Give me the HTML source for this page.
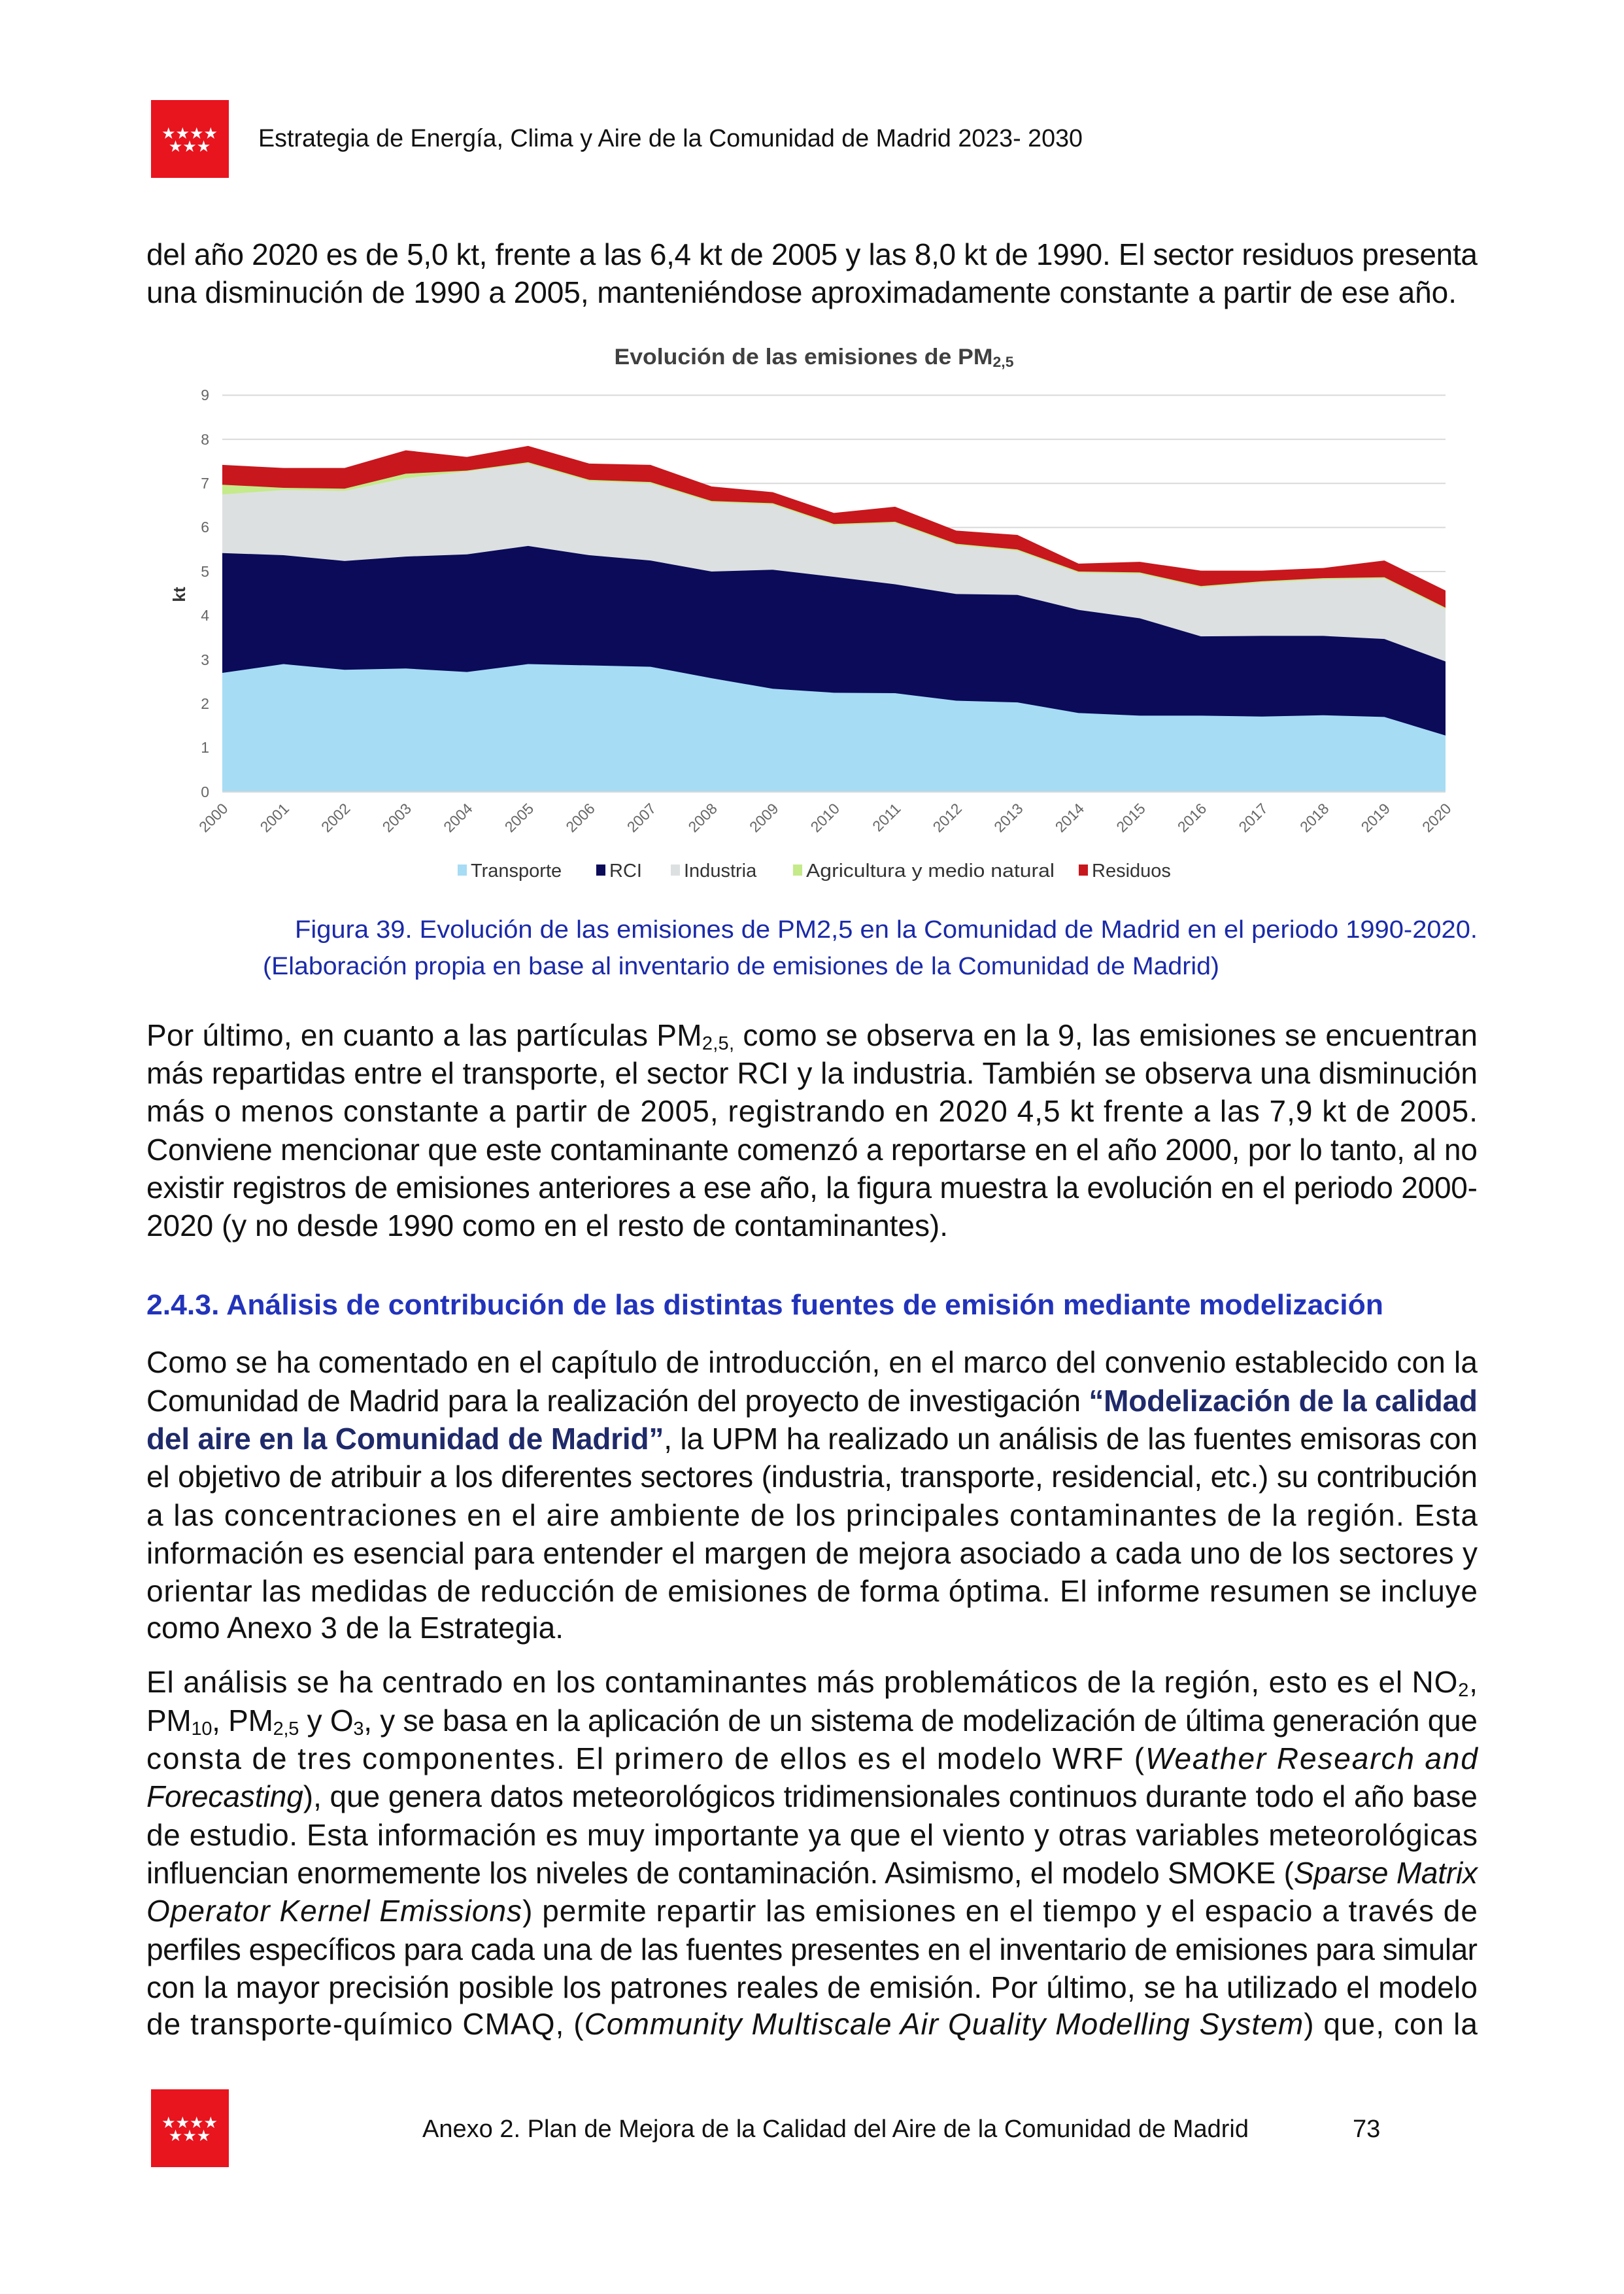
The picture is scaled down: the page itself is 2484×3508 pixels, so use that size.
<!DOCTYPE html>
<html><head><meta charset="utf-8">
<style>
html,body{margin:0;padding:0;background:#fff;}
svg{display:block;}
.b{font-family:"Liberation Sans",Arial,sans-serif;font-size:46px;fill:#111;}
.c{font-family:"Liberation Sans",sans-serif;}
</style></head><body>
<svg width="2484" height="3508" viewBox="0 0 2484 3508" xmlns="http://www.w3.org/2000/svg">
<rect width="2484" height="3508" fill="#fff"/>
<!-- header -->
<rect x="231" y="153" width="119" height="119" fill="#e8141e"/>
<text x="290" y="212" text-anchor="middle" class="c" font-size="24" fill="#fff">★★★★</text>
<text x="290" y="232" text-anchor="middle" class="c" font-size="24" fill="#fff">★★★</text>
<text x="395" y="224" class="c" font-size="38" fill="#111" textLength="1261" lengthAdjust="spacingAndGlyphs">Estrategia de Energía, Clima y Aire de la Comunidad de Madrid 2023- 2030</text>

<text class="b" x="224" y="405" textLength="2036" lengthAdjust="spacing">del año 2020 es de 5,0 kt, frente a las 6,4 kt de 2005 y las 8,0 kt de 1990. El sector residuos presenta</text>
<text class="b" x="224" y="463" textLength="2004" lengthAdjust="spacing">una disminución de 1990 a 2005, manteniéndose aproximadamente constante a partir de ese año.</text>

<!-- chart -->
<text x="1245" y="557" text-anchor="middle" class="c" font-size="34" font-weight="bold" fill="#404040" textLength="611" lengthAdjust="spacingAndGlyphs">Evolución de las emisiones de PM<tspan font-size="22" dy="4">2,5</tspan></text>
<g stroke="#d9d9d9" stroke-width="2">
<line x1="340" x2="2211" y1="1143.6" y2="1143.6"/><line x1="340" x2="2211" y1="1076.2" y2="1076.2"/>
<line x1="340" x2="2211" y1="1008.8" y2="1008.8"/><line x1="340" x2="2211" y1="941.4" y2="941.4"/>
<line x1="340" x2="2211" y1="874" y2="874"/><line x1="340" x2="2211" y1="806.6" y2="806.6"/>
<line x1="340" x2="2211" y1="739.2" y2="739.2"/><line x1="340" x2="2211" y1="671.8" y2="671.8"/>
<line x1="340" x2="2211" y1="604.4" y2="604.4"/>
</g>
<g transform="translate(340,1211) scale(93.55,-67.4)">
<polygon fill="#c8171d" points="0,0 0,7.42 1,7.35 2,7.35 3,7.75 4,7.6 5,7.85 6,7.45 7,7.42 8,6.93 9,6.8 10,6.33 11,6.47 12,5.93 13,5.83 14,5.18 15,5.22 16,5.02 17,5.02 18,5.08 19,5.25 20,4.57 20,0"/>
<polygon fill="#c4ea8a" points="0,0 0,6.97 1,6.9 2,6.88 3,7.22 4,7.29 5,7.48 6,7.08 7,7.03 8,6.6 9,6.55 10,6.08 11,6.13 12,5.63 13,5.5 14,5.0 15,4.98 16,4.67 17,4.78 18,4.85 19,4.87 20,4.18 20,0"/>
<polygon fill="#dde0e0" points="0,0 0,6.75 1,6.85 2,6.83 3,7.12 4,7.27 5,7.45 6,7.05 7,7.0 8,6.57 9,6.52 10,6.05 11,6.1 12,5.6 13,5.47 14,4.97 15,4.95 16,4.64 17,4.75 18,4.82 19,4.84 20,4.15 20,0"/>
<polygon fill="#0b0b5a" points="0,0 0,5.42 1,5.37 2,5.24 3,5.34 4,5.39 5,5.58 6,5.37 7,5.25 8,5.0 9,5.04 10,4.88 11,4.71 12,4.49 13,4.47 14,4.13 15,3.94 16,3.53 17,3.54 18,3.54 19,3.47 20,2.96 20,0"/>
<polygon fill="#a6dcf4" points="0,0 0,2.7 1,2.9 2,2.77 3,2.8 4,2.72 5,2.9 6,2.87 7,2.84 8,2.58 9,2.34 10,2.25 11,2.24 12,2.07 13,2.03 14,1.79 15,1.73 16,1.73 17,1.71 18,1.74 19,1.70 20,1.28 20,0"/>
</g>
<line x1="340" x2="2211" y1="1211" y2="1211" stroke="#d9d9d9" stroke-width="2"/>
<g class="c" font-size="23" fill="#666" text-anchor="end">
<text x="320" y="1219">0</text><text x="320" y="1151">1</text><text x="320" y="1084">2</text>
<text x="320" y="1017">3</text><text x="320" y="949">4</text><text x="320" y="882">5</text>
<text x="320" y="814">6</text><text x="320" y="747">7</text><text x="320" y="680">8</text><text x="320" y="612">9</text>
</g>
<text transform="translate(283,909) rotate(-90)" text-anchor="middle" class="c" font-size="26" font-weight="bold" fill="#333">kt</text>
<g class="c" font-size="23" fill="#666" text-anchor="end">
<text transform="translate(350,1238) rotate(-45)">2000</text>
<text transform="translate(443.5,1238) rotate(-45)">2001</text>
<text transform="translate(537,1238) rotate(-45)">2002</text>
<text transform="translate(630.6,1238) rotate(-45)">2003</text>
<text transform="translate(724.2,1238) rotate(-45)">2004</text>
<text transform="translate(817.7,1238) rotate(-45)">2005</text>
<text transform="translate(911.3,1238) rotate(-45)">2006</text>
<text transform="translate(1004.8,1238) rotate(-45)">2007</text>
<text transform="translate(1098.4,1238) rotate(-45)">2008</text>
<text transform="translate(1192,1238) rotate(-45)">2009</text>
<text transform="translate(1285.5,1238) rotate(-45)">2010</text>
<text transform="translate(1379,1238) rotate(-45)">2011</text>
<text transform="translate(1472.6,1238) rotate(-45)">2012</text>
<text transform="translate(1566.2,1238) rotate(-45)">2013</text>
<text transform="translate(1659.7,1238) rotate(-45)">2014</text>
<text transform="translate(1753.3,1238) rotate(-45)">2015</text>
<text transform="translate(1846.8,1238) rotate(-45)">2016</text>
<text transform="translate(1940.4,1238) rotate(-45)">2017</text>
<text transform="translate(2034,1238) rotate(-45)">2018</text>
<text transform="translate(2127.5,1238) rotate(-45)">2019</text>
<text transform="translate(2221,1238) rotate(-45)">2020</text>
</g>
<g class="c" font-size="29" fill="#333">
<rect x="700" y="1322" width="14" height="17" fill="#a6dcf4"/><text x="720" y="1341">Transporte</text>
<rect x="912" y="1322" width="14" height="17" fill="#0b0b5a"/><text x="932" y="1341">RCI</text>
<rect x="1026" y="1322" width="14" height="17" fill="#dde0e0"/><text x="1046" y="1341">Industria</text>
<rect x="1213" y="1322" width="14" height="17" fill="#c4ea8a"/><text x="1233" y="1341" textLength="380" lengthAdjust="spacingAndGlyphs">Agricultura y medio natural</text>
<rect x="1650" y="1322" width="14" height="17" fill="#c8171d"/><text x="1670" y="1341">Residuos</text>
</g>

<!-- caption -->
<text x="451" y="1434" class="c" font-size="38" fill="#1a2aa8" textLength="1809" lengthAdjust="spacingAndGlyphs">Figura 39. Evolución de las emisiones de PM2,5 en la Comunidad de Madrid en el periodo 1990-2020.</text>
<text x="402" y="1490" class="c" font-size="38" fill="#1a2aa8" textLength="1463" lengthAdjust="spacingAndGlyphs">(Elaboración propia en base al inventario de emisiones de la Comunidad de Madrid)</text>

<!-- paragraph 2 -->
<text class="b" x="224" y="1599" textLength="2036" lengthAdjust="spacing">Por último, en cuanto a las partículas PM<tspan font-size="29" dy="6">2,5,</tspan><tspan dy="-6"> como se observa en la 9, las emisiones se encuentran</tspan></text>
<text class="b" x="224" y="1657" textLength="2036" lengthAdjust="spacing">más repartidas entre el transporte, el sector RCI y la industria. También se observa una disminución</text>
<text class="b" x="224" y="1715" textLength="2036" lengthAdjust="spacing">más o menos constante a partir de 2005, registrando en 2020 4,5 kt frente a las 7,9 kt de 2005.</text>
<text class="b" x="224" y="1774" textLength="2036" lengthAdjust="spacing">Conviene mencionar que este contaminante comenzó a reportarse en el año 2000, por lo tanto, al no</text>
<text class="b" x="224" y="1832" textLength="2036" lengthAdjust="spacing">existir registros de emisiones anteriores a ese año, la figura muestra la evolución en el periodo 2000-</text>
<text class="b" x="224" y="1890" textLength="1226" lengthAdjust="spacing">2020 (y no desde 1990 como en el resto de contaminantes).</text>

<text x="224" y="2010" class="c" font-size="44" font-weight="bold" fill="#2233bb" textLength="1892" lengthAdjust="spacingAndGlyphs">2.4.3. Análisis de contribución de las distintas fuentes de emisión mediante modelización</text>

<!-- paragraph 3 -->
<text class="b" x="224" y="2099" textLength="2036" lengthAdjust="spacing">Como se ha comentado en el capítulo de introducción, en el marco del convenio establecido con la</text>
<text class="b" x="224" y="2158" textLength="2036" lengthAdjust="spacing">Comunidad de Madrid para la realización del proyecto de investigación <tspan font-weight="bold" fill="#1f2a6b">“Modelización de la calidad</tspan></text>
<text class="b" x="224" y="2216" textLength="2036" lengthAdjust="spacing"><tspan font-weight="bold" fill="#1f2a6b">del aire en la Comunidad de Madrid”</tspan>, la UPM ha realizado un análisis de las fuentes emisoras con</text>
<text class="b" x="224" y="2274" textLength="2036" lengthAdjust="spacing">el objetivo de atribuir a los diferentes sectores (industria, transporte, residencial, etc.) su contribución</text>
<text class="b" x="224" y="2333" textLength="2036" lengthAdjust="spacing">a las concentraciones en el aire ambiente de los principales contaminantes de la región. Esta</text>
<text class="b" x="224" y="2391" textLength="2036" lengthAdjust="spacing">información es esencial para entender el margen de mejora asociado a cada uno de los sectores y</text>
<text class="b" x="224" y="2449" textLength="2036" lengthAdjust="spacing">orientar las medidas de reducción de emisiones de forma óptima. El informe resumen se incluye</text>
<text class="b" x="224" y="2505" textLength="638" lengthAdjust="spacing">como Anexo 3 de la Estrategia.</text>

<!-- paragraph 4 -->
<text class="b" x="224" y="2588" textLength="2036" lengthAdjust="spacing">El análisis se ha centrado en los contaminantes más problemáticos de la región, esto es el NO<tspan font-size="29" dy="6">2</tspan><tspan dy="-6">,</tspan></text>
<text class="b" x="224" y="2647" textLength="2036" lengthAdjust="spacing">PM<tspan font-size="29" dy="6">10</tspan><tspan dy="-6">, PM</tspan><tspan font-size="29" dy="6">2,5</tspan><tspan dy="-6"> y O</tspan><tspan font-size="29" dy="6">3</tspan><tspan dy="-6">, y se basa en la aplicación de un sistema de modelización de última generación que</tspan></text>
<text class="b" x="224" y="2705" textLength="2036" lengthAdjust="spacing">consta de tres componentes. El primero de ellos es el modelo WRF (<tspan font-style="italic">Weather Research and</tspan></text>
<text class="b" x="224" y="2763" textLength="2036" lengthAdjust="spacing"><tspan font-style="italic">Forecasting</tspan>), que genera datos meteorológicos tridimensionales continuos durante todo el año base</text>
<text class="b" x="224" y="2822" textLength="2036" lengthAdjust="spacing">de estudio. Esta información es muy importante ya que el viento y otras variables meteorológicas</text>
<text class="b" x="224" y="2880" textLength="2036" lengthAdjust="spacing">influencian enormemente los niveles de contaminación. Asimismo, el modelo SMOKE (<tspan font-style="italic">Sparse Matrix</tspan></text>
<text class="b" x="224" y="2938" textLength="2036" lengthAdjust="spacing"><tspan font-style="italic">Operator Kernel Emissions</tspan>) permite repartir las emisiones en el tiempo y el espacio a través de</text>
<text class="b" x="224" y="2997" textLength="2036" lengthAdjust="spacing">perfiles específicos para cada una de las fuentes presentes en el inventario de emisiones para simular</text>
<text class="b" x="224" y="3055" textLength="2036" lengthAdjust="spacing">con la mayor precisión posible los patrones reales de emisión. Por último, se ha utilizado el modelo</text>
<text class="b" x="224" y="3111" textLength="2036" lengthAdjust="spacing">de transporte-químico CMAQ, (<tspan font-style="italic">Community Multiscale Air Quality Modelling System</tspan>) que, con la</text>

<!-- footer -->
<rect x="231" y="3195" width="119" height="119" fill="#e8141e"/>
<text x="290" y="3254" text-anchor="middle" class="c" font-size="24" fill="#fff">★★★★</text>
<text x="290" y="3274" text-anchor="middle" class="c" font-size="24" fill="#fff">★★★</text>
<text x="646" y="3268" class="c" font-size="38" fill="#111" textLength="1264" lengthAdjust="spacingAndGlyphs">Anexo 2. Plan de Mejora de la Calidad del Aire de la Comunidad de Madrid</text>
<text x="2069" y="3268" class="c" font-size="38" fill="#111">73</text>
</svg>
</body></html>
